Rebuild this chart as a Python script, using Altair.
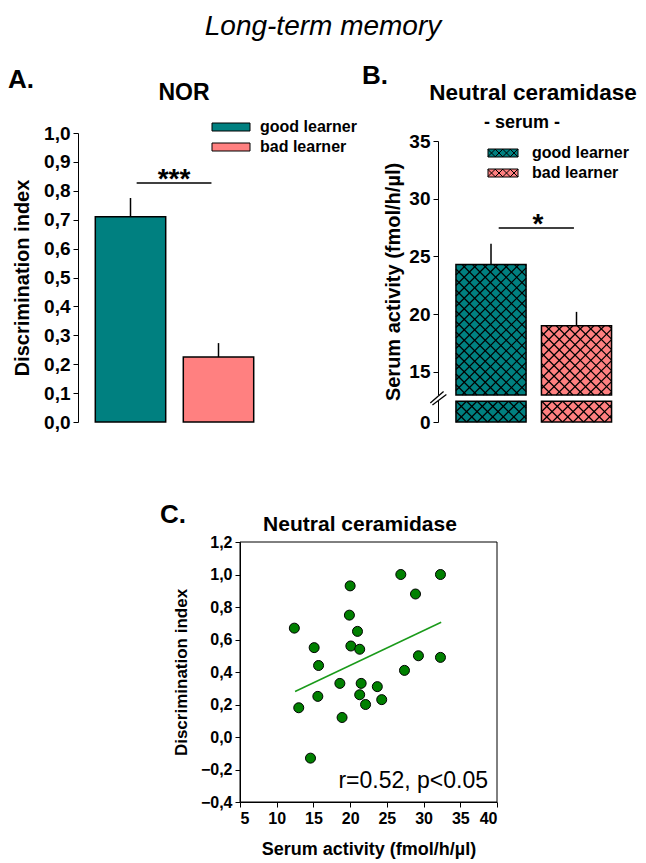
import altair as alt
import numpy as np
import pandas as pd

FONT = "Liberation Sans"
TEAL = "#008080"
PINK = "#FF8080"
GREEN = "#008000"
LINE_GREEN = "#1a9a1a"

# ---------------- data ----------------
groups = ["good learner", "bad learner"]
group_pos = [1, 2]

nor_mean = [0.71, 0.225]
nor_sem = [0.065, 0.048]

cer_mean = [24.3, 19.0]
cer_sem = [1.8, 1.2]

scatter_x = [12.4, 13.0, 14.6, 15.1, 15.7, 15.6, 18.6, 18.9, 20.0, 19.9, 21.0, 20.1,
             21.3, 21.5, 21.3, 22.1, 23.7, 24.3, 26.9, 27.4, 28.9, 29.3, 32.3, 32.3]
scatter_y = [0.67, 0.18, -0.13, 0.55, 0.44, 0.25, 0.33, 0.12, 0.93, 0.75, 0.65, 0.56,
             0.54, 0.33, 0.26, 0.20, 0.31, 0.23, 1.00, 0.41, 0.88, 0.50, 1.00, 0.49]
fit_x = [12.5, 32.4]
fit_y = [0.28, 0.706]

nor_ticks = [0.0, 0.1, 0.2, 0.3, 0.4, 0.5, 0.6, 0.7, 0.8, 0.9, 1.0]
cer_ticks = [0, 15, 20, 25, 30, 35]
c_xticks = [5, 10, 15, 20, 25, 30, 35, 40]
c_yticks = [-0.4, -0.2, 0.0, 0.2, 0.4, 0.6, 0.8, 1.0, 1.2]

sig_a = {"x1": 1.07, "x2": 1.92, "y": 0.827, "label": "***"}
sig_b = {"x1": 1.09, "x2": 1.97, "y": 27.46, "label": "*"}

# ---------------- layout ----------------
W, H = 630, 853
HW_A = 0.40
HW_B = 0.41
B_BREAK_LO, B_BREAK_HI = 10, 13

xA = alt.Scale(domain=[0.4, 2.5], range=[69.7, 254.5])
yA = alt.Scale(domain=[0, 1], range=[414, 125], nice=False, zero=False)
xB = alt.Scale(domain=[0.38, 2.6], range=[430, 619.8])
yB = alt.Scale(domain=[0, B_BREAK_HI, 35], range=[414, 387, 133], nice=False, zero=False)
xC = alt.Scale(domain=[5, 40], range=[232, 489], nice=False, zero=False)
yC = alt.Scale(domain=[-0.4, 1.2], range=[794, 534], nice=False, zero=False)

comma1 = "replace(format(datum.value, '.1f'), '.', ',')"


def y_axis(title, offset, values, label_size, title_size, title_pad, fmt=None):
    kw = dict(orient="left", offset=offset, values=values, title=title,
              labelFontSize=label_size, labelFontWeight="bold", labelFont=FONT,
              titleFontSize=title_size, titleFontWeight="bold", titleFont=FONT,
              tickSize=5, labelPadding=3, titlePadding=title_pad, grid=False,
              domainColor="black", tickColor="black", labelColor="black",
              titleColor="black", domainWidth=1, tickWidth=1, zindex=0)
    if fmt:
        kw["labelExpr"] = fmt
    return alt.Axis(**kw)


def hatch_segments(Wp, Hp, period):
    segs = []
    for k in np.arange(-Hp - period, Wp + period, period):
        vlo, vhi = max(0.0, -k), min(Hp, Wp - k)
        if vhi - vlo > 0.3:
            segs.append((vlo + k, vlo, vhi + k, vhi))
    for k in np.arange(-period, Wp + Hp + period, period):
        vlo, vhi = max(0.0, k - Wp), min(Hp, k)
        if vhi - vlo > 0.3:
            segs.append((k - vlo, vlo, k - vhi, vhi))
    return segs


def rect_path(wpx, hpx, unit):
    hw, hh = wpx / 2 / unit, hpx / 2 / unit
    return f"M{-hw:.3f},{-hh:.3f}H{hw:.3f}V{hh:.3f}H{-hw:.3f}Z"


def hatch_path(wpx, hpx, unit, period):
    p = rect_path(wpx, hpx, unit)
    for (u1, v1, u2, v2) in hatch_segments(wpx, hpx, period):
        p += (f"M{(u1 - wpx / 2) / unit:.3f},{(v1 - hpx / 2) / unit:.3f}"
              f"L{(u2 - wpx / 2) / unit:.3f},{(v2 - hpx / 2) / unit:.3f}")
    return p


def text_layer(text, x, y, size, weight="bold", style="normal", align="center"):
    return alt.Chart(pd.DataFrame({"t": [text]})).mark_text(
        fontSize=size, fontWeight=weight, fontStyle=style, align=align,
        baseline="alphabetic", color="black", font=FONT
    ).encode(x=alt.value(x), y=alt.value(y), text="t:N")


# ---------------- panel A ----------------
dfA = pd.DataFrame({"group": groups, "pos": group_pos, "mean": nor_mean, "sem": nor_sem})
dfA["x0"] = dfA["pos"] - HW_A
dfA["x1"] = dfA["pos"] + HW_A
dfA["top"] = dfA["mean"] + dfA["sem"]
dfA["zero"] = 0.0

legendA = alt.Legend(orient="none", legendX=215, legendY=111, title=None,
                     symbolType=rect_path(38, 8, 4), symbolSize=64,
                     symbolStrokeColor="black", symbolStrokeWidth=1, symbolOpacity=1,
                     labelFont=FONT, labelFontSize=16, labelFontWeight="bold",
                     labelColor="black", labelOffset=21, rowPadding=4, padding=0,
                     direction="vertical")

barsA = alt.Chart(dfA).mark_rect(stroke="black", strokeWidth=1.5, opacity=1).encode(
    x=alt.X("x0:Q", scale=xA, axis=None),
    x2="x1:Q",
    y=alt.Y("zero:Q", scale=yA,
            axis=y_axis("Discrimination index", -70, nor_ticks, 19, 20, 11, comma1)),
    y2="mean:Q",
    color=alt.Color("group:N", scale=alt.Scale(domain=groups, range=[TEAL, PINK]),
                    legend=legendA),
)
errA = alt.Chart(dfA).mark_rule(color="black", strokeWidth=1.5).encode(
    x=alt.X("pos:Q", scale=xA), y=alt.Y("mean:Q", scale=yA), y2="top:Q")
sigA_df = pd.DataFrame([sig_a])
sigA_df["mid"] = (sigA_df["x1"] + sigA_df["x2"]) / 2
sigA_line = alt.Chart(sigA_df).mark_rule(color="black", strokeWidth=1.5).encode(
    x=alt.X("x1:Q", scale=xA), x2="x2:Q", y=alt.Y("y:Q", scale=yA))
sigA_txt = alt.Chart(sigA_df).mark_text(fontSize=28, fontWeight="bold", font=FONT,
                                        baseline="alphabetic", dy=5, color="black").encode(
    x=alt.X("mid:Q", scale=xA), y=alt.Y("y:Q", scale=yA), text="label:N")
panelA = alt.layer(barsA, errA, sigA_line, sigA_txt)

# ---------------- panel B ----------------
dfB = pd.DataFrame({"group": groups, "pos": group_pos, "mean": cer_mean, "sem": cer_sem})
dfB["x0"] = dfB["pos"] - HW_B
dfB["x1"] = dfB["pos"] + HW_B
dfB["top"] = dfB["mean"] + dfB["sem"]
dfB["lo0"] = 0.0
dfB["lo1"] = float(B_BREAK_LO)
dfB["up0"] = float(B_BREAK_HI)

XPX_B = (619.8 - 430) / (2.6 - 0.38)
YPX_UP = (387 - 133) / (35 - B_BREAK_HI)
YPX_LO = (414 - 387) / B_BREAK_HI
rows = []
for _, r in dfB.iterrows():
    for (y0, y1, ypx) in [(0.0, B_BREAK_LO, YPX_LO), (B_BREAK_HI, r["mean"], YPX_UP)]:
        wpx = (r["x1"] - r["x0"]) * XPX_B
        hpx = (y1 - y0) * ypx
        for (u1, v1, u2, v2) in hatch_segments(wpx, hpx, 10.5):
            rows.append({"hx": r["x0"] + u1 / XPX_B, "hy": y0 + v1 / ypx,
                         "hx2": r["x0"] + u2 / XPX_B, "hy2": y0 + v2 / ypx})
hatch_df = pd.DataFrame(rows)

legendB = alt.Legend(orient="none", legendX=487, legendY=137, title=None,
                     symbolType=hatch_path(30, 8, 4, 7.5), symbolSize=64,
                     symbolStrokeColor="black", symbolStrokeWidth=1, symbolOpacity=1,
                     labelFont=FONT, labelFontSize=16, labelFontWeight="bold",
                     labelColor="black", labelOffset=21, rowPadding=4, padding=0,
                     direction="vertical")

upB = alt.Chart(dfB).mark_rect(opacity=1).encode(
    x=alt.X("x0:Q", scale=xB, axis=None),
    x2="x1:Q",
    y=alt.Y("up0:Q", scale=yB,
            axis=y_axis("Serum activity (fmol/h/µl)", -430, cer_ticks, 19, 20, 5)),
    y2="mean:Q",
    color=alt.Color("group:N", scale=alt.Scale(domain=groups, range=[TEAL, PINK]),
                    legend=legendB),
)
loB = alt.Chart(dfB).mark_rect(opacity=1).encode(
    x=alt.X("x0:Q", scale=xB), x2="x1:Q",
    y=alt.Y("lo0:Q", scale=yB), y2="lo1:Q",
    color=alt.Color("group:N"),
)
hatchB = alt.Chart(hatch_df).mark_rule(color="black", strokeWidth=1.2).encode(
    x=alt.X("hx:Q", scale=xB), x2="hx2:Q", y=alt.Y("hy:Q", scale=yB), y2="hy2:Q")
outlineUp = alt.Chart(dfB).mark_rect(fillOpacity=0, stroke="black", strokeWidth=1.5).encode(
    x=alt.X("x0:Q", scale=xB), x2="x1:Q", y=alt.Y("up0:Q", scale=yB), y2="mean:Q")
outlineLo = alt.Chart(dfB).mark_rect(fillOpacity=0, stroke="black", strokeWidth=1.5).encode(
    x=alt.X("x0:Q", scale=xB), x2="x1:Q", y=alt.Y("lo0:Q", scale=yB), y2="lo1:Q")
errB = alt.Chart(dfB).mark_rule(color="black", strokeWidth=1.5).encode(
    x=alt.X("pos:Q", scale=xB), y=alt.Y("mean:Q", scale=yB), y2="top:Q")
sigB_df = pd.DataFrame([sig_b])
sigB_df["mid"] = (sigB_df["x1"] + sigB_df["x2"]) / 2 + 0.02
sigB_line = alt.Chart(sigB_df).mark_rule(color="black", strokeWidth=1.5).encode(
    x=alt.X("x1:Q", scale=xB), x2="x2:Q", y=alt.Y("y:Q", scale=yB))
sigB_txt = alt.Chart(sigB_df).mark_text(fontSize=28, fontWeight="bold", font=FONT,
                                        baseline="alphabetic", dy=5, color="black").encode(
    x=alt.X("mid:Q", scale=xB), y=alt.Y("y:Q", scale=yB), text="label:N")

# axis break marks
gap_df = pd.DataFrame({"x0": [0.36], "x1": [0.40], "y0": [10.3], "y1": [12.95]})
gapB = alt.Chart(gap_df).mark_rect(color="white", opacity=1).encode(
    x=alt.X("x0:Q", scale=xB), x2="x1:Q", y=alt.Y("y0:Q", scale=yB), y2="y1:Q")
brk_df = pd.DataFrame({"bx": [0.290, 0.315], "bx2": [0.445, 0.478],
                       "by": [9.2, 8.2], "by2": [13.3, 13.05]})
brkB = alt.Chart(brk_df).mark_rule(color="black", strokeWidth=1.3).encode(
    x=alt.X("bx:Q", scale=xB), x2="bx2:Q", y=alt.Y("by:Q", scale=yB), y2="by2:Q")

panelB = alt.layer(upB, loB, hatchB, outlineUp, outlineLo, errB, sigB_line, sigB_txt,
                   gapB, brkB)

# ---------------- panel C ----------------
dfC = pd.DataFrame({"x": scatter_x, "y": scatter_y})
fitC = pd.DataFrame({"x": fit_x, "y": fit_y})
frame_df = pd.DataFrame({"x0": [5], "x1": [40], "y0": [-0.4], "y1": [1.2]})

frameC = alt.Chart(frame_df).mark_rect(fillOpacity=0, stroke="black", strokeWidth=1).encode(
    x=alt.X("x0:Q", scale=xC,
            axis=alt.Axis(orient="bottom", offset=-(H - 794), values=c_xticks,
                          title="Serum activity (fmol/h/µl)",
                          labelFontSize=16, labelFontWeight="bold", labelFont=FONT,
                          titleFontSize=18, titleFontWeight="bold", titleFont=FONT,
                          tickSize=5, labelPadding=3, titlePadding=14, grid=False,
                          domainColor="black", tickColor="black", labelColor="black",
                          titleColor="black", zindex=0)),
    x2="x1:Q",
    y=alt.Y("y0:Q", scale=yC,
            axis=y_axis("Discrimination index", -232, c_yticks, 16, 17, 10, comma1)),
    y2="y1:Q",
)
lineC = alt.Chart(fitC).mark_line(color=LINE_GREEN, strokeWidth=1.5).encode(
    x=alt.X("x:Q", scale=xC), y=alt.Y("y:Q", scale=yC))
ptsC = alt.Chart(dfC).mark_circle(size=100, color=GREEN, stroke="black", strokeWidth=1,
                                  opacity=1).encode(
    x=alt.X("x:Q", scale=xC), y=alt.Y("y:Q", scale=yC))
panelC = alt.layer(frameC, lineC, ptsC)

# ---------------- texts ----------------
texts = [
    text_layer("Long-term memory", 315, 27, 28, weight="normal", style="italic"),
    text_layer("A.", 0, 80, 26, align="left"),
    text_layer("NOR", 176, 92, 23),
    text_layer("B.", 354, 76, 26, align="left"),
    text_layer("Neutral ceramidase", 525, 92, 22.5),
    text_layer("- serum -", 514, 120, 18),
    text_layer("C.", 152, 515, 26, align="left"),
    text_layer("Neutral ceramidase", 352, 523, 21),
    text_layer("r=0.52, p<0.05", 480, 780, 23, weight="normal", align="right"),
]

chart = alt.layer(panelA, panelB, panelC, *texts).resolve_scale(
    x="independent", y="independent", color="independent"
).properties(
    width=W, height=H, autosize=alt.AutoSizeParams(type="none"), padding=0
).configure(font=FONT).configure_view(strokeWidth=0)

chart.save("out.html", embed_options={"renderer": "svg", "actions": False})
